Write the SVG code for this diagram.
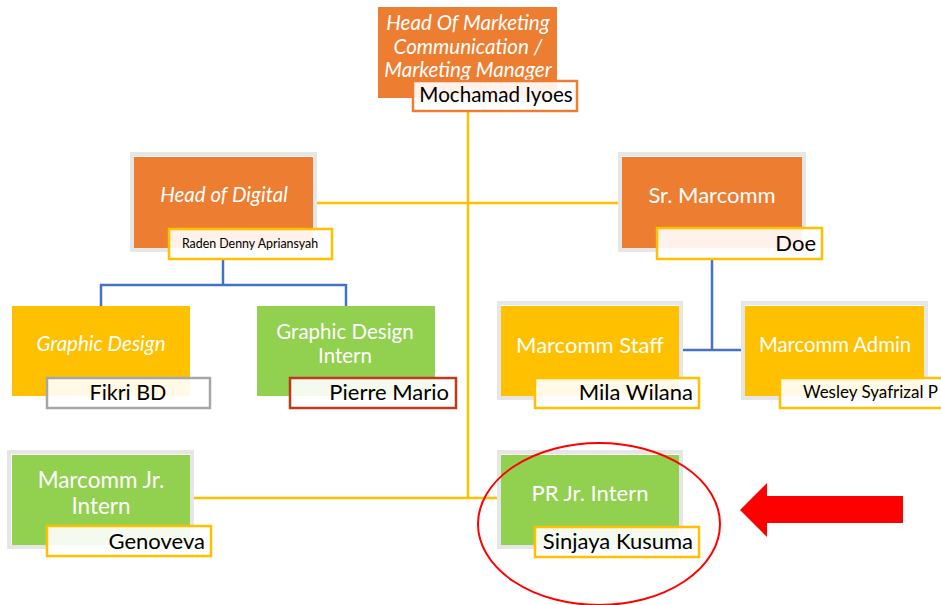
<svg xmlns="http://www.w3.org/2000/svg" width="941" height="605" viewBox="0 0 941 605">
<defs>
<style>
.frame{fill:none;stroke:#E7E6E6;stroke-width:4}
.org{fill:#ED7D31}
.yel{fill:#FFC000}
.grn{fill:#92D050}
.t{font-family:Lato,"Open Sans","Liberation Sans",sans-serif;fill:#FFFFFF}
.it{font-style:italic}
.n{font-family:Lato,"Open Sans","Liberation Sans",sans-serif;fill:#000000}
.nb{fill:#FFFFFF;fill-opacity:0.9;stroke-width:2.5}
.yl{stroke:#FFC000;stroke-width:2.5;fill:none}
.bl{stroke:#4472C4;stroke-width:2.5;fill:none}
</style>
<clipPath id="cTop"><rect x="378" y="7" width="179" height="74"/></clipPath>
</defs>
<g id="connectors">
<line class="yl" x1="468" y1="111" x2="468" y2="499"/>
<line class="yl" x1="317" y1="203" x2="620" y2="203"/>
<line class="yl" x1="194" y1="498" x2="497" y2="498"/>
<line class="bl" x1="223" y1="260" x2="223" y2="285"/>
<line class="bl" x1="100" y1="285" x2="346" y2="285"/>
<line class="bl" x1="101" y1="284" x2="101" y2="306"/>
<line class="bl" x1="346" y1="284" x2="346" y2="306"/>
<line class="bl" x1="712" y1="260" x2="712" y2="350"/>
<line class="bl" x1="683" y1="350" x2="742" y2="350"/>
</g>
<g id="node-head-marketing">
<rect class="org" x="378" y="7" width="179" height="91"/>
<g clip-path="url(#cTop)">
<text class="t it" font-size="20.6" text-anchor="middle" x="468" y="30">Head Of Marketing</text>
<text class="t it" font-size="20.6" text-anchor="middle" x="468" y="54">Communication /</text>
<text class="t it" font-size="20.6" text-anchor="middle" x="468" y="77">Marketing Manager</text>
</g>
<rect class="nb" stroke="#ED7D31" x="413" y="81" width="164" height="30"/>
<text class="n" font-size="20.6" text-anchor="middle" x="496" y="102">Mochamad Iyoes</text>
</g>
<g id="node-head-digital">
<rect class="frame" x="132" y="154" width="183" height="96"/>
<rect class="org" x="134" y="157" width="179" height="91"/>
<text class="t it" font-size="20.5" text-anchor="middle" x="224" y="202">Head of Digital</text>
<rect class="nb" stroke="#FFC000" x="169" y="229" width="163" height="30"/>
<text class="n" font-size="12.4" text-anchor="middle" x="250" y="248">Raden Denny Apriansyah</text>
</g>
<g id="node-sr-marcomm">
<rect class="frame" x="620" y="154" width="184" height="96"/>
<rect class="org" x="622" y="157" width="180" height="91"/>
<text class="t" font-size="22" text-anchor="middle" x="712" y="203">Sr. Marcomm</text>
<rect class="nb" stroke="#FFC000" x="657" y="228" width="165" height="31"/>
<text class="n" font-size="22" text-anchor="end" x="816" y="251">Doe</text>
</g>
<g id="node-graphic-design">
<rect class="yel" x="12" y="306" width="178" height="90"/>
<text class="t it" font-size="20.5" text-anchor="middle" x="101" y="351">Graphic Design</text>
<rect class="nb" stroke="#A6A6A6" x="47" y="378" width="163" height="30"/>
<text class="n" font-size="21.5" text-anchor="middle" x="128" y="400">Fikri BD</text>
</g>
<g id="node-graphic-design-intern">
<rect class="grn" x="257" y="306" width="178" height="90"/>
<text class="t" font-size="20.5" text-anchor="middle" x="345" y="339">Graphic Design</text>
<text class="t" font-size="20.5" text-anchor="middle" x="345" y="363">Intern</text>
<rect class="nb" stroke="#C0391B" x="290" y="378" width="166" height="30"/>
<text class="n" font-size="22" text-anchor="end" x="449" y="400">Pierre Mario</text>
</g>
<g id="node-marcomm-staff">
<rect class="frame" x="499" y="303" width="182" height="95"/>
<rect class="yel" x="501" y="306" width="178" height="90"/>
<text class="t" font-size="22" text-anchor="middle" x="590" y="353">Marcomm Staff</text>
<rect class="nb" stroke="#FFC000" x="535" y="378" width="164" height="30"/>
<text class="n" font-size="22" text-anchor="end" x="693" y="400">Mila Wilana</text>
</g>
<g id="node-marcomm-admin">
<rect class="frame" x="743" y="303" width="183" height="95"/>
<rect class="yel" x="745" y="306" width="179" height="90"/>
<text class="t" font-size="20.3" text-anchor="middle" x="835" y="352">Marcomm Admin</text>
<rect class="nb" stroke="#FFC000" x="780" y="378" width="170" height="30"/>
<text class="n" font-size="17" x="803" y="398">Wesley Syafrizal P</text>
</g>
<g id="node-marcomm-jr-intern">
<rect class="frame" x="9" y="452" width="183" height="95"/>
<rect class="grn" x="12" y="455" width="178" height="90"/>
<text class="t" font-size="22.5" text-anchor="middle" x="101" y="488">Marcomm Jr.</text>
<text class="t" font-size="22.5" text-anchor="middle" x="101" y="514">Intern</text>
<rect class="nb" stroke="#FFC000" x="47" y="526" width="164" height="30"/>
<text class="n" font-size="22" text-anchor="end" x="205" y="549">Genoveva</text>
</g>
<g id="node-pr-jr-intern">
<rect class="frame" x="499" y="452" width="182" height="95"/>
<rect class="grn" x="501" y="455" width="178" height="90"/>
<text class="t" font-size="22" text-anchor="middle" x="590" y="501">PR Jr. Intern</text>
<rect class="nb" stroke="#FFC000" x="535" y="527" width="164" height="30"/>
<text class="n" font-size="22" text-anchor="end" x="693" y="549">Sinjaya Kusuma</text>
</g>
<g id="highlight">
<ellipse cx="599" cy="524" rx="121" ry="81" fill="none" stroke="#FF0000" stroke-width="2"/>
<polygon points="740,510 767,483 767,496 903,496 903,523 767,523 767,537" fill="#FF0000"/>
</g>
</svg>
